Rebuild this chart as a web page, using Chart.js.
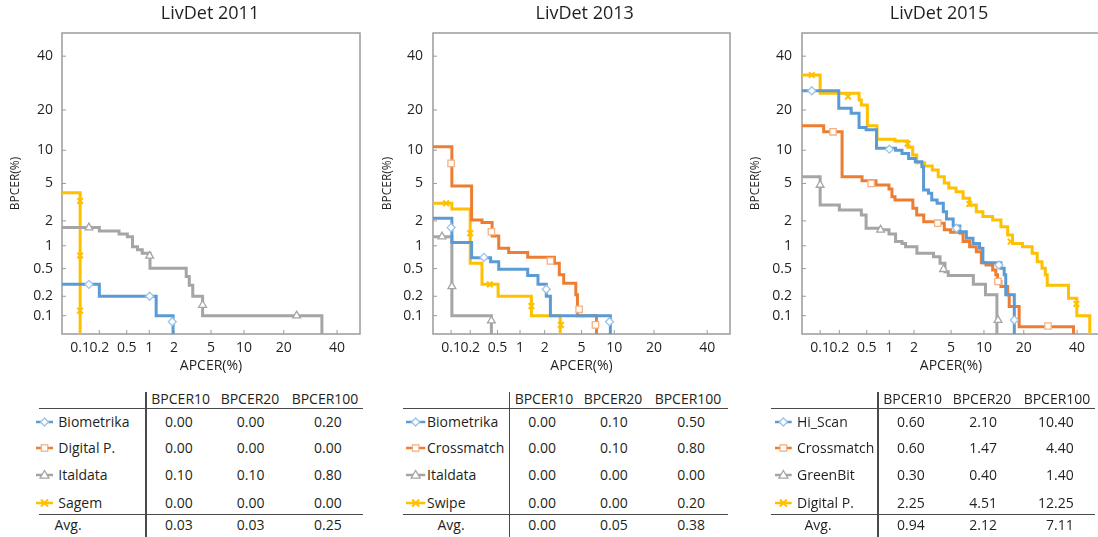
<!DOCTYPE html>
<html>
<head>
<meta charset="utf-8">
<script src="https://cdn.jsdelivr.net/npm/chart.js@4.4.0/dist/chart.umd.min.js"></script>
<style>
  html, body { margin: 0; padding: 0; background: #fff; }
  body { width: 1098px; height: 537px; position: relative; overflow: hidden; font-family: 'Open Sans', sans-serif; color: #231f20; }
  canvas { position: absolute; top: 0; }
  .title { position: absolute; top: 1px; width: 200px; text-align: center; font-size: 18px; line-height: 22px; }
  .cell { position: absolute; font-size: 14px; line-height: 18px; white-space: nowrap; }
  .rule { position: absolute; background: #4a4a4a; }
  svg.icon { position: absolute; overflow: visible; }
</style>
</head>
<body>
<canvas id="c2011" width="366" height="380" style="left:0px"></canvas>
<canvas id="c2013" width="370" height="380" style="left:366px"></canvas>
<canvas id="c2015" width="374" height="380" style="left:732px"></canvas>
<script>
// axis ticks (percent, probit scale)
const tickPercents = [0.1, 0.2, 0.5, 1, 2, 5, 10, 20, 40];
const axisMinPct = 0.05;
const axisMaxPct = 50;

// LivDet 2011 -- DET steps [APCER %, BPCER %]
const biometrika2011 = [[0.05, 0.30], [0.20, 0.20], [1.22, 0.10], [1.95, 0.05]];
const biometrika2011Marks = [[0.138, 0.30], [1.01, 0.20], [1.91, 0.08]];
const digitalP2011 = [];
const digitalP2011Marks = [];
const italdata2011 = [[0.05, 1.67], [0.20, 1.52], [0.39, 1.40], [0.51, 1.30], [0.60, 0.975], [0.70, 0.89], [0.81, 0.80], [1.02, 0.505], [2.75, 0.39], [2.97, 0.29], [3.24, 0.20], [4.11, 0.10], [33.7, 0.05]];
const italdata2011Marks = [[0.138, 1.67], [1.01, 0.74], [4.11, 0.147], [24.2, 0.10]];
const sagem2011 = [[0.05, 4.04], [0.10, 0.05]];
const sagem2011Marks = [[0.10, 3.32], [0.10, 0.75], [0.10, 0.12]];

// LivDet 2013
const biometrika2013 = [[0.05, 2.14], [0.103, 1.10], [0.21, 0.70], [0.40, 0.62], [0.52, 0.49], [1.25, 0.40], [1.67, 0.30], [2.09, 0.20], [2.33, 0.10], [9.25, 0.05]];
const biometrika2013Marks = [[0.10, 1.67], [0.32, 0.71], [2.09, 0.254], [9.1, 0.08]];
const crossmatch2013 = [[0.05, 10.7], [0.103, 4.73], [0.21, 2.05], [0.30, 1.91], [0.42, 1.32], [0.52, 0.93], [0.71, 0.82], [1.25, 0.71], [2.59, 0.59], [2.93, 0.41], [3.27, 0.31], [4.38, 0.21], [4.55, 0.10], [6.96, 0.05]];
const crossmatch2013Marks = [[0.10, 7.7], [0.41, 1.49], [2.33, 0.635], [4.73, 0.126], [6.8, 0.071]];
const italdata2013 = [[0.05, 1.30], [0.103, 0.10], [0.41, 0.05]];
const italdata2013Marks = [[0.071, 1.30], [0.103, 0.28], [0.41, 0.083]];
const swipe2013 = [[0.05, 3.13], [0.103, 2.72], [0.20, 0.59], [0.30, 0.30], [0.51, 0.20], [1.39, 0.10], [3.0, 0.05]];
const swipe2013Marks = [[0.083, 3.13], [0.20, 1.43], [0.39, 0.30], [1.39, 0.142], [3.05, 0.071]];

// LivDet 2015
const hiScan2015 = [[0.05, 26.4], [0.196, 20.5], [0.30, 19.0], [0.39, 15.1], [0.49, 14.5], [0.68, 10.4], [1.20, 10.0], [1.44, 9.4], [1.73, 8.5], [2.07, 7.98], [2.46, 7.2], [2.57, 4.3], [2.91, 4.0], [3.16, 3.4], [3.6, 3.13], [4.18, 2.54], [4.5, 2.10], [5.25, 1.74], [6.08, 1.49], [7.0, 1.24], [8.04, 1.07], [9.17, 0.93], [9.8, 0.60], [13.7, 0.505], [14.5, 0.41], [14.9, 0.21], [17.2, 0.05]];
const hiScan2015Marks = [[0.073, 26.4], [1.0, 10.2], [5.65, 1.64], [13.2, 0.56], [17.2, 0.085]];
const crossmatch2015 = [[0.05, 15.5], [0.114, 14.0], [0.22, 5.8], [0.43, 5.3], [0.67, 4.83], [0.99, 4.4], [1.08, 3.68], [1.18, 3.4], [1.94, 2.77], [2.15, 2.33], [2.58, 1.96], [3.55, 1.88], [4.28, 1.57], [4.95, 1.47], [6.12, 1.43], [6.53, 1.13], [7.5, 0.975], [8.6, 0.84], [9.5, 0.60], [10.4, 0.56], [11.8, 0.48], [12.5, 0.41], [12.9, 0.33], [13.7, 0.28], [15.4, 0.21], [15.8, 0.139], [18.6, 0.066], [38.5, 0.05]];
const crossmatch2015Marks = [[0.16, 14.0], [0.575, 5.0], [3.66, 1.88], [13.0, 0.33], [28.3, 0.068]];
const greenBit2015 = [[0.05, 5.8], [0.10, 3.0], [0.20, 2.65], [0.42, 2.33], [0.49, 1.64], [0.74, 1.57], [0.99, 1.40], [1.20, 1.13], [1.44, 1.07], [1.59, 0.975], [2.16, 0.80], [3.3, 0.72], [3.87, 0.59], [4.35, 0.454], [4.69, 0.40], [8.1, 0.30], [10.3, 0.21], [12.75, 0.05]];
const greenBit2015Marks = [[0.10, 4.83], [0.77, 1.57], [4.2, 0.49], [13.0, 0.085]];
const digitalP2015 = [[0.05, 32.3], [0.10, 25.5], [0.39, 23.2], [0.42, 21.6], [0.51, 15.5], [0.69, 12.25], [1.18, 11.9], [1.69, 10.6], [1.93, 9.1], [2.15, 7.8], [2.64, 7.3], [3.2, 6.7], [3.7, 5.8], [4.28, 5.05], [4.75, 4.51], [5.6, 4.14], [6.53, 3.54], [7.5, 3.0], [8.6, 2.54], [9.8, 2.25], [11.8, 2.05], [13.7, 1.71], [15.4, 1.36], [16.7, 1.07], [19.6, 0.975], [22.7, 0.80], [24.4, 0.62], [26.1, 0.505], [27.3, 0.41], [28.0, 0.29], [36.4, 0.187], [39.9, 0.10], [45.5, 0.05]];
const digitalP2015Marks = [[0.073, 32.3], [0.27, 24.3], [1.68, 11.3], [7.45, 3.08], [16.2, 1.13], [39.7, 0.153]];

// tables
const tableHeads = ['BPCER10', 'BPCER20', 'BPCER100'];
const names2011 = ['Biometrika', 'Digital P.', 'Italdata', 'Sagem'];
const bpcer10_2011 = ['0.00', '0.00', '0.10', '0.00'];
const bpcer20_2011 = ['0.00', '0.00', '0.10', '0.00'];
const bpcer100_2011 = ['0.20', '0.00', '0.80', '0.00'];
const avg2011 = ['0.03', '0.03', '0.25'];
const names2013 = ['Biometrika', 'Crossmatch', 'Italdata', 'Swipe'];
const bpcer10_2013 = ['0.00', '0.00', '0.00', '0.00'];
const bpcer20_2013 = ['0.10', '0.10', '0.00', '0.00'];
const bpcer100_2013 = ['0.50', '0.80', '0.00', '0.20'];
const avg2013 = ['0.00', '0.05', '0.38'];
const names2015 = ['Hi_Scan', 'Crossmatch', 'GreenBit', 'Digital P.'];
const bpcer10_2015 = ['0.60', '0.60', '0.30', '2.25'];
const bpcer20_2015 = ['2.10', '1.47', '0.40', '4.51'];
const bpcer100_2015 = ['10.40', '4.40', '1.40', '12.25'];
const avg2015 = ['0.94', '2.12', '7.11'];

// styles per series slot
const lineColors = ['#5b9bd5', '#ed7d31', '#a5a5a5', '#ffc000'];
const markColors = ['#9dc3e6', '#f4b183', '#a5a5a5', '#ffc000'];
const markStyles = ['rectRot', 'rect', 'triangle', 'crossRot'];
const markRadius = [4, 4.5, 4.5, 4];

const textColor = '#231f20';
Chart.defaults.font.family = "'Open Sans', sans-serif";
Chart.defaults.color = textColor;

// inverse normal CDF (Acklam)
function probit(p) {
  const a = [-3.969683028665376e+01, 2.209460984245205e+02, -2.759285104469687e+02, 1.383577518672690e+02, -3.066479806614716e+01, 2.506628277459239e+00];
  const b = [-5.447609879822406e+01, 1.615858368580409e+02, -1.556989798598866e+02, 6.680131188771972e+01, -1.328068155288572e+01];
  const c = [-7.784894002430293e-03, -3.223964580411365e-01, -2.400758277161838e+00, -2.549732539343734e+00, 4.374664141464968e+00, 2.938163982698783e+00];
  const d = [7.784695709041462e-03, 3.224671290700398e-01, 2.445134137142996e+00, 3.754408661907416e+00];
  const pl = 0.02425;
  if (p < pl) {
    const q = Math.sqrt(-2 * Math.log(p));
    return (((((c[0] * q + c[1]) * q + c[2]) * q + c[3]) * q + c[4]) * q + c[5]) / ((((d[0] * q + d[1]) * q + d[2]) * q + d[3]) * q + 1);
  }
  if (p <= 1 - pl) {
    const q = p - 0.5, r = q * q;
    return (((((a[0] * r + a[1]) * r + a[2]) * r + a[3]) * r + a[4]) * r + a[5]) * q / (((((b[0] * r + b[1]) * r + b[2]) * r + b[3]) * r + b[4]) * r + 1);
  }
  const q = Math.sqrt(-2 * Math.log(1 - p));
  return -(((((c[0] * q + c[1]) * q + c[2]) * q + c[3]) * q + c[4]) * q + c[5]) / ((((d[0] * q + d[1]) * q + d[2]) * q + d[3]) * q + 1);
}
const toPoints = (list) => list.map(([x, y]) => ({ x: probit(x / 100), y: probit(y / 100) }));

// plot frame + inner tick marks
const frame = {
  id: 'frame',
  beforeDatasetsDraw(chart) {
    const { ctx, chartArea: a, scales } = chart;
    ctx.save();
    ctx.strokeStyle = '#9b9b9b';
    ctx.lineWidth = 1.5;
    ctx.strokeRect(a.left, a.top, a.right - a.left, a.bottom - a.top);
    ctx.lineWidth = 1;
    ctx.beginPath();
    scales.x.ticks.forEach((t) => {
      const px = scales.x.getPixelForValue(t.value);
      ctx.moveTo(px, a.bottom);
      ctx.lineTo(px, a.bottom - 4);
    });
    scales.y.ticks.forEach((t) => {
      const py = scales.y.getPixelForValue(t.value);
      ctx.moveTo(a.left, py);
      ctx.lineTo(a.left + 4, py);
    });
    ctx.stroke();
    ctx.restore();
  },
};

function axisOptions(isX, fitSize, tickPad, title, titlePad, titleSize) {
  return {
    type: 'linear',
    min: probit(axisMinPct / 100),
    max: probit(axisMaxPct / 100),
    grid: { display: false, drawTicks: false },
    border: { display: false },
    afterBuildTicks: (scale) => {
      scale.ticks = tickPercents.map((v) => ({ value: probit(v / 100) }));
    },
    afterFit: (scale) => {
      if (isX) scale.height = fitSize; else scale.width = fitSize;
    },
    ticks: {
      autoSkip: false,
      maxRotation: 0,
      minRotation: 0,
      padding: tickPad,
      color: textColor,
      font: { size: 14 },
      callback: (value, index) => String(tickPercents[index]),
    },
    title: {
      display: true,
      text: title,
      color: textColor,
      font: { size: titleSize },
      padding: isX ? { top: 0, bottom: titlePad } : { top: titlePad, bottom: 0 },
    },
  };
}

function makePanel(canvasId, curves, marks, yAxisWidth, yTickPad, yTitlePad) {
  const datasets = [];
  marks.forEach((list, i) => {
    datasets.push({
      data: toPoints(list),
      showLine: false,
      pointStyle: markStyles[i],
      pointRadius: markRadius[i],
      pointBorderColor: markColors[i],
      pointBackgroundColor: '#ffffff',
      pointBorderWidth: i === 3 ? 2 : 1.3,
    });
  });
  curves.forEach((list, i) => {
    datasets.push({
      data: toPoints(list),
      showLine: true,
      stepped: true,
      borderColor: lineColors[i],
      borderWidth: 3,
      pointRadius: 0,
      fill: false,
    });
  });
  return new Chart(document.getElementById(canvasId), {
    type: 'scatter',
    data: { datasets },
    plugins: [frame],
    options: {
      responsive: false,
      animation: false,
      events: [],
      layout: { padding: { top: 33, left: 0, right: 2, bottom: 2 } },
      plugins: { legend: { display: false }, tooltip: { enabled: false } },
      scales: {
        x: axisOptions(true, 44, 6, 'APCER(%)', 4, 14),
        y: axisOptions(false, yAxisWidth, yTickPad, 'BPCER(%)', yTitlePad, 12),
      },
    },
  });
}

makePanel('c2011',
  [biometrika2011, digitalP2011, italdata2011, sagem2011],
  [biometrika2011Marks, digitalP2011Marks, italdata2011Marks, sagem2011Marks], 62, 9, 8.7);
makePanel('c2013',
  [biometrika2013, crossmatch2013, italdata2013, swipe2013],
  [biometrika2013Marks, crossmatch2013Marks, italdata2013Marks, swipe2013Marks], 67, 10, 13.9);
makePanel('c2015',
  [hiScan2015, crossmatch2015, greenBit2015, digitalP2015],
  [hiScan2015Marks, crossmatch2015Marks, greenBit2015Marks, digitalP2015Marks], 70, 10, 16.4);

// titles
function addTitle(text, cx) {
  const el = document.createElement('div');
  el.className = 'title';
  el.textContent = text;
  el.style.left = (cx - 100) + 'px';
  document.body.appendChild(el);
}
addTitle('LivDet 2011', 210);
addTitle('LivDet 2013', 584.7);
addTitle('LivDet 2015', 939);

// tables under each panel
const headY = 399;
const rowY = [422.3, 448.3, 475, 503.3];
const avgY = 525;

function addCell(text, x, yc, align) {
  const el = document.createElement('div');
  el.className = 'cell';
  el.textContent = text;
  el.style.top = (yc - 9) + 'px';
  if (align === 'center') { el.style.left = (x - 60) + 'px'; el.style.width = '120px'; el.style.textAlign = 'center'; }
  else if (align === 'right') { el.style.left = (x - 80) + 'px'; el.style.width = '80px'; el.style.textAlign = 'right'; }
  else el.style.left = x + 'px';
  document.body.appendChild(el);
}
function addRule(x, y, w, h) {
  const el = document.createElement('div');
  el.className = 'rule';
  Object.assign(el.style, { left: x + 'px', top: y + 'px', width: w + 'px', height: h + 'px' });
  document.body.appendChild(el);
}
function addIcon(i, x0, x1, yc) {
  const ns = 'http://www.w3.org/2000/svg';
  const svg = document.createElementNS(ns, 'svg');
  svg.setAttribute('class', 'icon');
  svg.setAttribute('width', x1 - x0);
  svg.setAttribute('height', 12);
  svg.style.left = x0 + 'px';
  svg.style.top = (yc - 6) + 'px';
  const w = x1 - x0, cx = w / 2, cy = 6;
  const line = document.createElementNS(ns, 'line');
  Object.entries({ x1: 0, y1: cy, x2: w, y2: cy, stroke: lineColors[i], 'stroke-width': 2.5 })
    .forEach(([k, v]) => line.setAttribute(k, v));
  svg.appendChild(line);
  let shape;
  if (i === 0) {
    shape = document.createElementNS(ns, 'polygon');
    shape.setAttribute('points', `${cx - 4},${cy} ${cx},${cy - 4} ${cx + 4},${cy} ${cx},${cy + 4}`);
  } else if (i === 1) {
    shape = document.createElementNS(ns, 'rect');
    Object.entries({ x: cx - 3.2, y: cy - 3.2, width: 6.4, height: 6.4 }).forEach(([k, v]) => shape.setAttribute(k, v));
  } else if (i === 2) {
    shape = document.createElementNS(ns, 'polygon');
    shape.setAttribute('points', `${cx},${cy - 4.5} ${cx + 4.5},${cy + 3.2} ${cx - 4.5},${cy + 3.2}`);
  } else {
    shape = document.createElementNS(ns, 'path');
    shape.setAttribute('d', `M${cx - 3.5},${cy - 3.5}L${cx + 3.5},${cy + 3.5}M${cx + 3.5},${cy - 3.5}L${cx - 3.5},${cy + 3.5}`);
  }
  shape.setAttribute('fill', '#ffffff');
  shape.setAttribute('stroke', markColors[i]);
  shape.setAttribute('stroke-width', i === 3 ? 2 : 1.3);
  svg.appendChild(shape);
  document.body.appendChild(svg);
}

function makeTable(left, lay, names, v10, v20, v100, avg) {
  addRule(left + lay.vline - 0.75, 392, 1.5, 145);
  addRule(left + lay.h0, 408, lay.h1 - lay.h0, 1.3);
  addRule(left + lay.h0, 513.5, lay.h1 - lay.h0, 1.3);
  tableHeads.forEach((h, k) => addCell(h, left + lay.head[k], headY, 'center'));
  names.forEach((n, r) => {
    addIcon(r, left + lay.icon[0], left + lay.icon[1], rowY[r]);
    addCell(n, left + lay.label, rowY[r], 'left');
    addCell(v10[r], left + lay.right[0], rowY[r], 'right');
    addCell(v20[r], left + lay.right[1], rowY[r], 'right');
    addCell(v100[r], left + lay.right[2], rowY[r], 'right');
  });
  addCell('Avg.', left + lay.avg, avgY, 'center');
  avg.forEach((v, k) => addCell(v, left + lay.right[k], avgY, 'right'));
}

makeTable(0, { vline: 146, h0: 39, h1: 363, head: [180.7, 250, 325], right: [192.7, 264.5, 341.7], label: 58.3, icon: [36, 53], avg: 68 },
  names2011, bpcer10_2011, bpcer20_2011, bpcer100_2011, avg2011);
makeTable(366, { vline: 143.3, h0: 36.7, h1: 361.7, head: [178, 247, 322], right: [190, 261.7, 339], label: 61, icon: [40, 59.3], avg: 85 },
  names2013, bpcer10_2013, bpcer20_2013, bpcer100_2013, avg2013);
makeTable(732, { vline: 146, h0: 39.3, h1: 363.3, head: [180.7, 250, 325], right: [192.7, 265, 341.7], label: 65, icon: [43.3, 60], avg: 86 },
  names2015, bpcer10_2015, bpcer20_2015, bpcer100_2015, avg2015);
</script>
</body>
</html>
